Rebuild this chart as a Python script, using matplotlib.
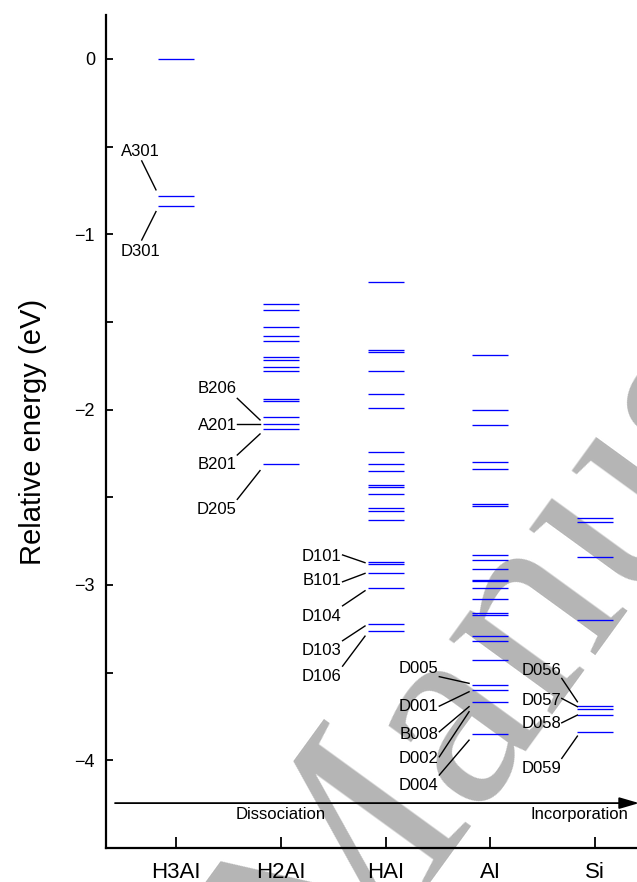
import matplotlib
matplotlib.use("Agg")
import matplotlib.pyplot as plt
from matplotlib.ticker import MultipleLocator

plt.rcParams['font.family'] = ['Liberation Sans', 'DejaVu Sans']

# ---------------- data ----------------
categories = ["H3AI", "H2AI", "HAI", "AI", "Si"]
h3al_levels = [0.0, -0.78, -0.84]
h2al_levels = [-1.40, -1.43, -1.53, -1.58, -1.61, -1.70, -1.72, -1.76, -1.78,
               -1.94, -1.95, -2.04, -2.08, -2.11, -2.31]
hal_levels = [-1.27, -1.66, -1.67, -1.78, -1.91, -1.99, -2.24, -2.31, -2.35,
              -2.43, -2.44, -2.48, -2.56, -2.58, -2.63, -2.87, -2.88, -2.93,
              -3.02, -3.22, -3.26]
al_levels = [-1.69, -2.00, -2.09, -2.30, -2.34, -2.54, -2.55, -2.83, -2.86,
             -2.91, -2.97, -2.98, -3.02, -3.08, -3.16, -3.17, -3.29, -3.32,
             -3.43, -3.57, -3.60, -3.67, -3.85]
si_levels = [-2.62, -2.64, -2.84, -3.20, -3.69, -3.71, -3.74, -3.84]
all_levels = [h3al_levels, h2al_levels, hal_levels, al_levels, si_levels]

label_names = ["A301", "D301",
               "B206", "A201", "B201", "D205",
               "D101", "B101", "D104", "D103", "D106",
               "D005", "D001", "B008", "D002", "D004",
               "D056", "D057", "D058", "D059"]
y_label = "Relative energy (eV)"
arrow_left_text = "Dissociation"
arrow_right_text = "Incorporation"
watermark_text = "Manuscript"

# ---------------- layout (positions only) ----------------
# (text x, text y, ha, line start (x,y), line end (x,y))
label_layout = [
    (0.661, -0.529, 'center', (0.673, -0.582), (0.809, -0.747)),
    (0.661, -1.099, 'center', (0.673, -1.033), (0.809, -0.871)),
    (1.582, -1.877, 'right', (1.585, -1.936), (1.802, -2.059)),
    (1.582, -2.088, 'right', (1.585, -2.083), (1.802, -2.083)),
    (1.582, -2.316, 'right', (1.585, -2.259), (1.802, -2.139)),
    (1.582, -2.567, 'right', (1.585, -2.512), (1.802, -2.348)),
    (2.582, -2.835, 'right', (2.590, -2.829), (2.804, -2.873)),
    (2.582, -2.976, 'right', (2.590, -2.982), (2.804, -2.934)),
    (2.582, -3.181, 'right', (2.590, -3.119), (2.804, -3.033)),
    (2.582, -3.371, 'right', (2.590, -3.318), (2.804, -3.234)),
    (2.582, -3.524, 'right', (2.590, -3.463), (2.804, -3.292)),
    (3.504, -3.476, 'right', (3.513, -3.523), (3.797, -3.561)),
    (3.504, -3.695, 'right', (3.513, -3.691), (3.797, -3.609)),
    (3.504, -3.852, 'right', (3.513, -3.837), (3.797, -3.694)),
    (3.504, -3.989, 'right', (3.513, -3.980), (3.797, -3.723)),
    (3.504, -4.141, 'right', (3.513, -4.084), (3.797, -3.885)),
    (4.675, -3.485, 'right', (4.682, -3.533), (4.831, -3.666)),
    (4.675, -3.657, 'right', (4.682, -3.647), (4.831, -3.694)),
    (4.675, -3.790, 'right', (4.682, -3.786), (4.831, -3.742)),
    (4.675, -4.046, 'right', (4.682, -3.989), (4.831, -3.862)),
]

fig = plt.figure(figsize=(6.37, 8.82), dpi=100)
ax = fig.add_axes([106 / 637, 34 / 882, (637 - 106) / 637, (867 - 34) / 882])

# watermark
fig.text(0.515, -0.147, watermark_text, fontsize=200, family='Liberation Serif',
         color='#b5b5b5', rotation=54, rotation_mode='anchor',
         ha='left', va='baseline', zorder=0)
ax.set_zorder(1)
ax.patch.set_alpha(0)

half = 0.172
for i, levels in enumerate(all_levels):
    xc = i + 1
    ax.hlines(levels, xc - half, xc + half, colors='#0000ff', lw=0.95, zorder=3)

for name, (tx, ty, ha, p0, p1) in zip(label_names, label_layout):
    ax.text(tx, ty, name, ha=ha, va='center', fontsize=12, zorder=4)
    ax.plot([p0[0], p1[0]], [p0[1], p1[1]], color='black', lw=1.0, zorder=4)

# arrow
ax.annotate('', xy=(5.42, -4.244), xytext=(0.418, -4.244),
            arrowprops=dict(arrowstyle='-|>,head_length=1.2,head_width=0.35',
                            color='black', lw=1.3, shrinkA=0, shrinkB=0),
            annotation_clip=False, zorder=4)
ax.text(2.0, -4.31, arrow_left_text, ha='center', va='center', fontsize=12)
ax.text(4.85, -4.31, arrow_right_text, ha='center', va='center', fontsize=12)

ax.set_xlim(0.332, 5.40)
ax.set_ylim(-4.5, 0.25)
ax.set_xticks(range(1, len(categories) + 1))
ax.set_xticklabels(categories, fontsize=16)
ax.yaxis.set_major_locator(MultipleLocator(1))
ax.yaxis.set_minor_locator(MultipleLocator(0.5))
ax.tick_params(axis='y', which='both', direction='in', length=5, width=1.3,
               labelsize=13, pad=8)
ax.tick_params(axis='x', which='both', direction='in', length=8, width=1.3,
               pad=10)
ax.set_ylabel(y_label, fontsize=21, labelpad=20)
for s in ['top', 'right']:
    ax.spines[s].set_visible(False)
for s in ['left', 'bottom']:
    ax.spines[s].set_linewidth(1.6)

fig.savefig('out.png', dpi=100)
